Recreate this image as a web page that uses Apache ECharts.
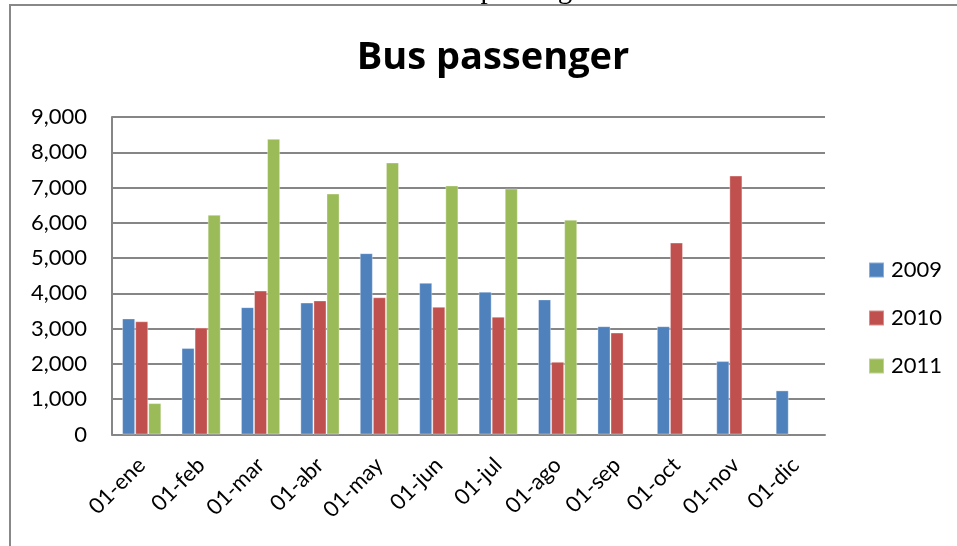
<!DOCTYPE html>
<html>
<head>
<meta charset="utf-8">
<script src="https://cdn.jsdelivr.net/npm/echarts@6/dist/echarts.min.js"></script>
<style>
  html, body { margin: 0; padding: 0; background: #fff; }
  #chart { width: 957px; height: 546px; }
</style>
</head>
<body>
<div id="chart"></div>
<script>
// Monthly bus passengers, three years side by side
const months = ['01-ene', '01-feb', '01-mar', '01-abr', '01-may', '01-jun',
                '01-jul', '01-ago', '01-sep', '01-oct', '01-nov', '01-dic'];
const years = ['2009', '2010', '2011'];
const values2009 = [3290, 2450, 3610, 3740, 5140, 4300, 4050, 3830, 3070, 3070, 2080, 1250];
const values2010 = [3210, 3030, 4080, 3800, 3890, 3620, 3340, 2060, 2890, 5440, 7340, null];
const values2011 = [890, 6230, 8380, 6830, 7710, 7060, 6970, 6090, null, null, null, null];
const yTicks = { min: 0, max: 9000, step: 1000 };

const colors = ['#4F81BD', '#C0504D', '#9BBB59'];
const font = 'Lato, "Open Sans", sans-serif';

const chart = echarts.init(document.getElementById('chart'), null, { renderer: 'canvas' });

const seriesData = [values2009, values2010, values2011];

chart.setOption({
  animation: false,
  color: colors,
  title: {
    text: 'Bus passenger',
    left: 488,
    textAlign: 'center',
    top: 34,
    textStyle: { fontFamily: '"Open Sans", sans-serif', fontWeight: 'bold', fontSize: 38, color: '#000' }
  },
  legend: {
    orient: 'vertical',
    left: 868,
    top: 259,
    padding: 0,
    itemWidth: 15,
    itemHeight: 15,
    itemGap: 26,
    icon: 'rect',
    data: years,
    textStyle: { fontFamily: font, fontSize: 22, color: '#000', padding: [0, 0, 0, 2] }
  },
  grid: { left: 112, top: 117, width: 713, height: 317.5, containLabel: false },
  xAxis: {
    type: 'category',
    data: months,
    axisLine: { lineStyle: { color: '#868686', width: 2 } },
    axisTick: { show: false },
    axisLabel: { rotate: 45, margin: 27, fontFamily: font, fontSize: 22, color: '#000', interval: 0 }
  },
  yAxis: {
    type: 'value',
    min: yTicks.min,
    max: yTicks.max,
    interval: yTicks.step,
    axisLine: { show: true, lineStyle: { color: '#868686', width: 2 } },
    axisTick: { show: false },
    splitLine: { lineStyle: { color: '#868686', width: 2 } },
    axisLabel: {
      margin: 25,
      fontFamily: font, fontSize: 22, color: '#000',
      formatter: v => v.toLocaleString('en-US')
    }
  },
  graphic: [
    {
      type: 'rect',
      shape: { x: 10, y: 5, width: 1200, height: 800 },
      style: { fill: 'none', stroke: '#888', lineWidth: 2 },
      silent: true
    },
    {
      type: 'text',
      left: 428,
      top: -24,
      style: { text: 'Bus passenger', font: '29px "Liberation Serif", serif', fill: '#000' },
      silent: true
    }
  ],
  series: years.map((y, i) => ({
    name: y,
    type: 'bar',
    data: seriesData[i],
    barGap: '0%',
    barCategoryGap: '34%',
    itemStyle: { color: colors[i], borderColor: 'rgba(255,255,255,0.35)', borderWidth: 1 }
  }))
});
</script>
</body>
</html>
